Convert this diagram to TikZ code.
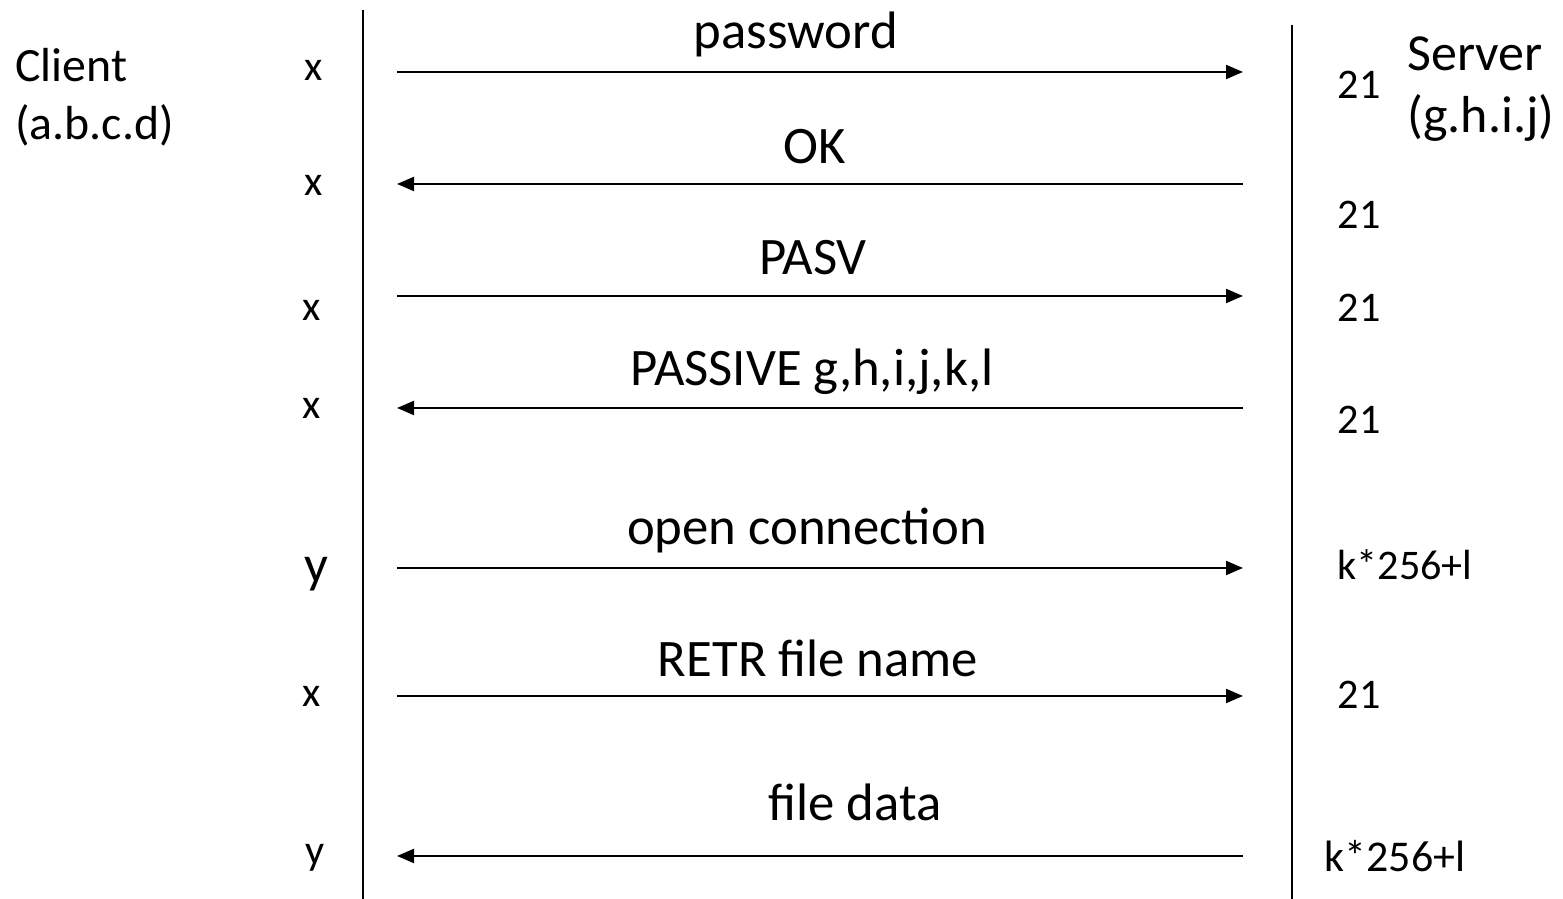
\documentclass[tikz,border=0pt]{standalone}
\usepackage{fontspec}
\setmainfont{Carlito}
\usepackage{tikz}
\usetikzlibrary{arrows.meta,positioning,calc}

\begin{document}
\begin{tikzpicture}[
    msg/.style={font=\fontsize{15}{18}\selectfont},
    port/.style={font=\fontsize{12}{14}\selectfont},
    host/.style={align=left, anchor=west, font=\fontsize{13.5}{16.5}\selectfont},
    arrow/.style={-{Triangle[length=0.17cm,width=0.14cm]}, line width=0.6pt},
    lifeline/.style={line width=0.6pt}
]
\useasboundingbox (0,0) rectangle (15.63,-8.99);

% Hosts
\node[host, font=\fontsize{13.6}{16.5}\selectfont] (client) at (0.03,-0.97) {Client\\(a.b.c.d)};
\node[host, font=\fontsize{14.8}{17.5}\selectfont] (server) at (13.95,-0.89) {Server\\(g.h.i.j)};

% Lifelines
\coordinate (ctop) at (3.63,-0.10);
\coordinate (cbot) at (3.63,-8.99);
\coordinate (stop) at (12.92,-0.25);
\coordinate (sbot) at (12.92,-8.99);
\draw[lifeline] (ctop) -- (cbot);
\draw[lifeline] (stop) -- (sbot);

% Arrow ends
\coordinate (c1) at (3.97,-0.72); \coordinate (s1) at (12.43,-0.72);
\coordinate (c2) at (3.97,-1.84); \coordinate (s2) at (12.43,-1.84);
\coordinate (c3) at (3.97,-2.96); \coordinate (s3) at (12.43,-2.96);
\coordinate (c4) at (3.97,-4.08); \coordinate (s4) at (12.43,-4.08);
\coordinate (c5) at (3.97,-5.68); \coordinate (s5) at (12.43,-5.68);
\coordinate (c6) at (3.97,-6.96); \coordinate (s6) at (12.43,-6.96);
\coordinate (c7) at (3.97,-8.56); \coordinate (s7) at (12.43,-8.56);

% Messages
\draw[arrow] (c1) -- (s1);
\draw[arrow] (s2) -- (c2);
\draw[arrow] (c3) -- (s3);
\draw[arrow] (s4) -- (c4);
\draw[arrow] (c5) -- (s5);
\draw[arrow] (c6) -- (s6);
\draw[arrow] (s7) -- (c7);

\node[msg] (m1) at (7.96,-0.34) {password};
\node[msg] (m2) at (8.15,-1.47) {OK};
\node[msg] (m3) at (8.13,-2.58) {PASV};
\node[msg] (m4) at (8.12,-3.72) {PASSIVE g,h,i,j,k,l};
\node[msg] (m5) at (8.07,-5.31) {open connection};
\node[msg] (m6) at (8.18,-6.58) {RETR file name};
\node[msg] (m7) at (8.55,-8.02) {file data};

% Client ports
\node[port] (cp1) at (3.14,-0.70) {x};
\node[port] (cp2) at (3.14,-1.85) {x};
\node[port] (cp3) at (3.12,-3.10) {x};
\node[port] (cp4) at (3.12,-4.08) {x};
\node[msg] (cp5) at (3.16,-5.74) {y};
\node[port] (cp6) at (3.12,-6.96) {x};
\node[port] (cp7) at (3.15,-8.58) {y};

% Server ports
\node[port] (sp1) at (13.59,-0.85) {21};
\node[port] (sp2) at (13.59,-2.15) {21};
\node[port] (sp3) at (13.59,-3.08) {21};
\node[port] (sp4) at (13.59,-4.20) {21};
\node[port] (sp5) at (14.05,-5.65) {k*256+l};
\node[port] (sp6) at (13.59,-6.95) {21};
\node[port, font=\fontsize{12.5}{15}\selectfont] (sp7) at (13.95,-8.56) {k*256+l};

\end{tikzpicture}
\end{document}
